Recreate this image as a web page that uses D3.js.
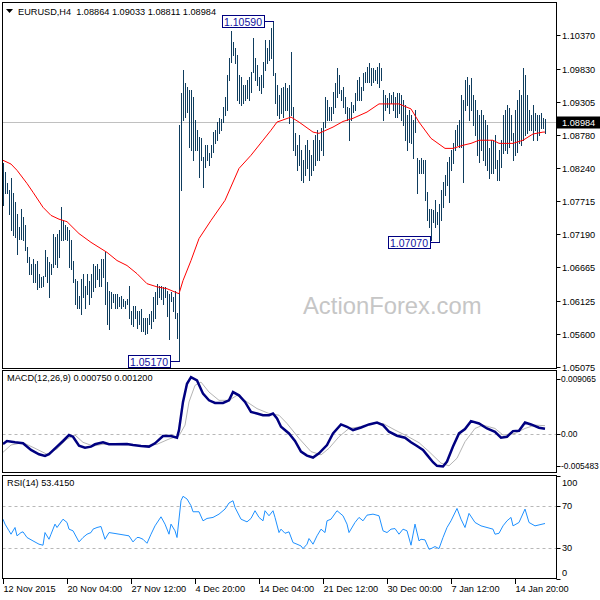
<!DOCTYPE html>
<html><head><meta charset="utf-8">
<script src="https://cdn.jsdelivr.net/npm/d3@7"></script>
<style>body{margin:0;background:#fff}svg{display:block}text{font-family:"Liberation Sans",Arial,sans-serif}</style>
</head><body>
<svg id="c" width="600" height="600"></svg>
<script>
// ---------- DATA ----------
const symbol = "EURUSD,H4";
const headerVals = ["1.08864","1.09033","1.08811","1.08984"];
const lastPrice = 1.08984;
const highs = [
1.0832,1.0818,1.0800,1.0789,1.0808,1.0784,1.0770,1.0752,1.0730,1.0759,
1.0746,1.0733,1.0698,1.0682,1.0672,1.0680,1.0672,1.0677,1.0656,1.0650,
1.0653,1.0693,1.0683,1.0675,1.0672,1.0719,1.0714,1.0720,1.0725,1.0763,
1.0741,1.0733,1.0730,1.0725,1.0709,1.0677,1.0648,1.0645,1.0621,1.0648,
1.0656,1.0637,1.0656,1.0645,1.0656,1.0672,1.0669,1.0672,1.0664,1.0680,
1.0680,1.0690,1.0642,1.0629,1.0626,1.0624,1.0624,1.0624,1.0618,1.0621,
1.0616,1.0613,1.0616,1.0637,1.0597,1.0605,1.0605,1.0597,1.0597,1.0600,
1.0586,1.0586,1.0586,1.0592,1.0597,1.0618,1.0626,1.0640,1.0637,1.0637,
1.0634,1.0634,1.0629,1.0624,1.0626,1.0618,1.0629,1.0594,1.0893,1.0944,
1.0981,1.0960,1.0954,1.0949,1.0949,1.0938,1.0901,1.0885,1.0874,1.0872,
1.0842,1.0861,1.0861,1.0848,1.0861,1.0882,1.0885,1.0898,1.0904,1.0903,
1.0922,1.0938,1.0973,1.1000,1.1043,1.1026,1.1016,1.1005,1.0973,1.0970,
1.0957,1.0957,1.0965,1.0970,1.0978,1.1032,1.1000,1.0989,1.0970,1.0973,
1.0994,1.1029,1.1016,1.1029,1.1048,1.1059,1.0976,1.0957,1.0941,1.0952,
1.0954,1.0960,1.0952,1.0957,1.1010,1.0922,1.0880,1.0861,1.0877,1.0853,
1.0837,1.0861,1.0869,1.0853,1.0845,1.0869,1.0877,1.0885,1.0869,1.0888,
1.0898,1.0938,1.0933,1.0922,1.0922,1.0946,1.0960,1.0984,1.0973,1.0949,
1.0954,1.0938,1.0922,1.0920,1.0930,1.0925,1.0944,1.0965,1.0970,1.0954,
1.0976,1.0978,1.0986,1.0992,1.0984,1.0984,1.0981,1.0986,1.0992,1.0984,
1.0949,1.0941,1.0936,1.0944,1.0941,1.0946,1.0938,1.0944,1.0944,1.0941,
1.0933,1.0925,1.0909,1.0917,1.0909,1.0901,1.0917,1.0840,1.0837,1.0840,
1.0837,1.0837,1.0786,1.0760,1.0760,1.0757,1.0773,1.0754,1.0768,1.0789,
1.0802,1.0813,1.0834,1.0842,1.0853,1.0864,1.0885,1.0893,1.0901,1.0941,
1.0933,1.0965,1.0970,1.0957,1.0968,1.0941,1.0933,1.0917,1.0909,1.0917,
1.0909,1.0901,1.0893,1.0856,1.0869,1.0869,1.0877,1.0837,1.0853,1.0869,
1.0909,1.0917,1.0925,1.0920,1.0909,1.0880,1.0917,1.0933,1.0949,1.0941,
1.0984,1.0973,1.0941,1.0917,1.0909,1.0925,1.0912,1.0909,1.0909,1.0912,
1.0904,1.09033];
const lows = [
1.0765,1.0784,1.0784,1.0752,1.0725,1.0717,1.0714,1.0688,1.0712,1.0712,
1.0709,1.0693,1.0674,1.0656,1.0656,1.0642,1.0642,1.0632,1.0634,1.0634,
1.0637,1.0653,1.0642,1.0618,1.0656,1.0666,1.0672,1.0666,1.0682,1.0709,
1.0709,1.0712,1.0709,1.0666,1.0664,1.0642,1.0608,1.0602,1.0602,1.0592,
1.0618,1.0602,1.0624,1.0608,1.0618,1.0629,1.0634,1.0648,1.0637,1.0637,
1.0650,1.0608,1.0576,1.0568,1.0602,1.0610,1.0602,1.0602,1.0605,1.0602,
1.0605,1.0602,1.0608,1.0586,1.0576,1.0573,1.0586,1.0570,1.0576,1.0565,
1.0565,1.0559,1.0562,1.0576,1.0570,1.0581,1.0586,1.0608,1.0618,1.0616,
1.0608,1.0618,1.0589,1.0552,1.0613,1.0597,1.0586,1.0554,1.0517,1.0789,
1.0901,1.0906,1.0914,1.0858,1.0853,1.0837,1.0853,1.0853,1.0810,1.0837,
1.0794,1.0826,1.0837,1.0829,1.0842,1.0850,1.0864,1.0869,1.0880,1.0885,
1.0898,1.0909,1.0917,1.0965,1.0994,1.1005,1.0992,1.0933,1.0928,1.0925,
1.0928,1.0933,1.0936,1.0933,1.0946,1.0978,1.0965,1.0957,1.0949,1.0944,
1.0954,1.0981,1.0992,1.0997,1.1000,1.0973,1.0928,1.0909,1.0904,1.0912,
1.0906,1.0917,1.0917,1.0896,1.0909,1.0853,1.0845,1.0821,1.0829,1.0805,
1.0802,1.0813,1.0824,1.0805,1.0813,1.0821,1.0829,1.0837,1.0837,1.0853,
1.0845,1.0890,1.0901,1.0901,1.0901,1.0912,1.0922,1.0938,1.0944,1.0933,
1.0922,1.0912,1.0901,1.0869,1.0901,1.0914,1.0917,1.0933,1.0933,1.0933,
1.0949,1.0962,1.0962,1.0962,1.0957,1.0962,1.0965,1.0960,1.0954,1.0965,
1.0901,1.0917,1.0922,1.0912,1.0928,1.0917,1.0906,1.0906,1.0912,1.0901,
1.0893,1.0869,1.0853,1.0866,1.0864,1.0840,1.0882,1.0784,1.0816,1.0816,
1.0816,1.0773,1.0741,1.0730,1.0709,1.0738,1.0730,1.0736,1.0707,1.0741,
1.0762,1.0781,1.0797,1.0770,1.0821,1.0832,1.0853,1.0861,1.0858,1.0858,
1.0802,1.0917,1.0925,1.0901,1.0917,1.0893,1.0877,1.0845,1.0834,1.0853,
1.0837,1.0829,1.0821,1.0808,1.0816,1.0816,1.0824,1.0805,1.0805,1.0826,
1.0848,1.0853,1.0848,1.0858,1.0869,1.0837,1.0845,1.0850,1.0864,1.0861,
1.0869,1.0877,1.0880,1.0885,1.0885,1.0869,1.0885,1.0869,1.0877,1.0888,
1.0888,1.08811];
const maIdx = [0,4,7,12,15,20,24,28,32,38,44,48,52,57,62,67,72,77,82,88,90,94,98,104,111,118,124,130,134,137,144,148,155,158,165,170,175,182,188,198,204,208,214,221,225,230,234,238,245,248,255,260,265,270,271];
const maVal = [1.0837,1.0831,1.0821,1.0800,1.0786,1.0762,1.0749,1.0743,1.0739,1.0720,1.0706,1.0698,1.0690,1.0677,1.0669,1.0656,1.0640,1.0635,1.0632,1.0624,1.0645,1.0677,1.0712,1.0741,1.0773,1.0824,1.0845,1.0869,1.0885,1.0898,1.0906,1.0898,1.0882,1.0880,1.0890,1.0899,1.0904,1.0914,1.0927,1.0927,1.0919,1.0898,1.0872,1.0856,1.0856,1.0861,1.0864,1.0869,1.0869,1.0864,1.0864,1.0869,1.0879,1.0882,1.0882];
const macdIdx = [0,2,6,10,14,18,21,23,27,30,33,35,38,41,44,46,50,53,56,62,65,69,73,76,80,84,87,88,90,92,94,97,100,103,106,110,113,115,118,121,124,127,130,133,135,137,139,143,146,149,152,155,158,162,165,169,172,175,179,183,187,190,193,197,201,204,207,210,212,215,217,220,222,225,228,231,234,238,242,246,249,252,255,258,261,264,268,271];
const macdVal = [-0.00142,-0.00099,-0.00118,-0.00132,-0.00227,-0.00288,-0.00312,-0.00288,-0.00179,-0.00099,-0.00014,-0.00038,-0.00165,-0.00194,-0.00179,-0.00146,-0.00118,-0.00146,-0.00146,-0.00142,-0.00156,-0.00170,-0.00179,-0.00132,-0.00028,-0.00028,-0.00052,0.00057,0.00458,0.00717,0.00812,0.00764,0.00576,0.00481,0.00444,0.00444,0.00481,0.00599,0.00552,0.00458,0.00316,0.00293,0.00269,0.00269,0.00293,0.00222,0.00104,0.00009,-0.00099,-0.00250,-0.00307,-0.00335,-0.00274,-0.00156,0.00009,0.00137,0.00104,0.00057,0.00094,0.00137,0.00165,0.00127,0.00033,-0.00024,-0.00052,-0.00118,-0.00170,-0.00227,-0.00297,-0.00401,-0.00453,-0.00463,-0.00392,-0.00179,0.00009,0.00071,0.00184,0.00151,0.00080,0.00033,-0.00052,-0.00038,0.00042,0.00047,0.00165,0.00137,0.00090,0.00075];
const sigIdx = [0,4,10,16,22,27,32,36,40,45,50,56,64,71,77,83,88,91,93,96,99,103,108,113,117,122,127,133,138,142,148,154,159,163,168,173,179,185,190,196,202,208,213,219,223,227,231,236,240,246,250,256,261,266,271];
const sigVal = [-0.00260,-0.00156,-0.00123,-0.00203,-0.00288,-0.00212,-0.00071,-0.00014,-0.00118,-0.00170,-0.00146,-0.00146,-0.00156,-0.00170,-0.00146,-0.00071,-0.00024,0.00127,0.00458,0.00694,0.00741,0.00599,0.00481,0.00481,0.00552,0.00458,0.00363,0.00293,0.00269,0.00151,-0.00061,-0.00250,-0.00297,-0.00203,-0.00038,0.00080,0.00104,0.00151,0.00151,0.00057,-0.00028,-0.00123,-0.00250,-0.00415,-0.00453,-0.00345,-0.00109,0.00080,0.00127,0.00080,-0.00014,0.00009,0.00080,0.00127,0.00120];
const rsiIdx = [0,1,3,4,6,7,9,10,12,15,18,20,21,23,24,26,27,30,32,33,35,38,40,42,44,45,47,49,51,53,56,60,63,65,67,68,70,72,74,76,79,81,83,84,86,87,89,90,92,94,95,98,100,102,105,108,111,113,115,116,119,122,124,126,128,130,131,133,135,136,138,139,141,143,145,147,149,150,152,153,155,157,159,161,162,164,167,170,172,173,176,178,180,182,185,188,190,192,194,196,198,200,202,204,206,208,209,211,213,214,216,218,220,222,224,227,229,231,233,236,239,242,245,246,248,250,252,254,255,258,261,263,266,271];
const rsiVal = [57.6,52.8,46.3,43,49.5,41.4,44.6,45.3,39.8,36.5,33.3,32.3,44.6,38.1,43,52.8,49.5,57.6,54.4,47.9,46.3,35.5,39.8,43,44.6,47.9,49.5,50.5,38.1,44.6,43.7,42.4,41.4,35.5,39.8,39.8,38.1,34.2,43,51.1,59.9,52.8,43,52.8,46.3,39.8,75.5,79.8,77.2,70.7,64.8,64.8,56,58.3,59.3,62.5,67.4,73.3,75.5,69,57.6,55,58.3,65.8,59.3,56,65.8,60.9,65.8,59.3,44.6,47.9,43.9,45.3,34.9,33.3,31.6,29,33.3,38.8,33.3,41.4,47.9,44.6,56,57.6,65.8,60.9,52.8,44.6,54.4,59.3,56,61.5,62.5,60.9,46.3,44.6,47.9,48.5,43,47.9,46.3,32.3,52.8,36.5,38.1,37.5,28.4,29,31,29,39.8,49.5,56,68,57.6,49.5,63.2,54.4,51.1,49.5,47.9,43,43.9,51.1,56,59.3,51.1,54.4,67.4,54.4,51.1,53.4];
const priceTicks = ["1.10370","1.09830","1.09305","1.08780","1.08240","1.07715","1.07190","1.06665","1.06125","1.05600","1.05075"];
const timeTickIdx = [0,32,64,96,128,160,192,224,256];
const timeTickLabels = ["12 Nov 2015","20 Nov 04:00","27 Nov 12:00","4 Dec 20:00","14 Dec 04:00","21 Dec 12:00","30 Dec 00:00","7 Jan 12:00","14 Jan 20:00"];
const annIdx = [135, 88, 218];
const annPrice = [1.1059, 1.0517, 1.0707];
const annText = ["1.10590","1.05170","1.07070"];
const macdTitle = "MACD(12,26,9) 0.000750 0.001200";
const macdTicks = ["0.009065","0.00","-0.005483"];
const rsiTitle = "RSI(14) 53.4150";
const rsiLevels = [70, 30];
const rsiTicks = [100, 70, 30, 0];
const watermark = "ActionForex.com";

// ---------- LAYOUT ----------
const L = 2.5, R = 556.5;
const main = {t:2.5, b:368.5}, mp = {t:370.5, b:472.5}, rp = {t:475.5, b:578.5};
const svg = d3.select("#c");
const FS = 9.2;

const x = d3.scaleLinear().domain([0, 271]).range([3, 545]);
const yP = d3.scaleLinear().domain([1.05075, 1.10370]).range([366.7, 35]);
const yM = d3.scaleLinear().domain([-0.005483, 0.009065]).range([mp.b, mp.t]);
const yR = d3.scaleLinear().domain([0, 100]).range([rp.b, rp.t]);
const px = i => Math.round(x(i)) + 0.5;

const defs = svg.append("defs");
[["cm",main],["cmacd",mp],["crsi",rp]].forEach(([id,p]) => {
  defs.append("clipPath").attr("id", id).append("rect")
    .attr("x", L).attr("y", p.t).attr("width", R - L).attr("height", p.b - p.t);
});

// watermark
svg.append("text").attr("x", 303).attr("y", 314).attr("font-size", 23.8)
  .attr("fill", "#c6c6c6").text(watermark);

// ---------- MAIN PANEL ----------
const gm = svg.append("g").attr("clip-path", "url(#cm)");
gm.append("line").attr("x1", L).attr("x2", R)
  .attr("y1", Math.round(yP(lastPrice)) + 0.5).attr("y2", Math.round(yP(lastPrice)) + 0.5)
  .attr("stroke", "#c0c0c0");
gm.append("g").attr("shape-rendering", "crispEdges").selectAll("line")
  .data(d3.range(highs.length)).join("line")
  .attr("x1", px).attr("x2", px)
  .attr("y1", i => Math.round(yP(highs[i]))).attr("y2", i => Math.round(yP(lows[i])) + 1)
  .attr("stroke", "#0f3d5e").attr("stroke-width", 1);
const maLine = d3.line().x((d, k) => x(maIdx[k])).y((d, k) => yP(maVal[k]));
gm.append("path").attr("d", maLine(maVal)).attr("fill", "none")
  .attr("stroke", "#ff0000").attr("stroke-width", 1);

// annotations
annIdx.forEach((idx, k) => {
  const bx = px(idx), by = Math.round(yP(annPrice[k])) + 0.5;
  const w = 42, h = 12, rx = bx - 10 - w;
  svg.append("line").attr("x1", rx + w).attr("x2", bx).attr("y1", by).attr("y2", by)
    .attr("stroke", "#000080").attr("shape-rendering", "crispEdges");
  svg.append("rect").attr("x", rx + 0.5).attr("y", by - h / 2).attr("width", w).attr("height", h)
    .attr("fill", "#fff").attr("stroke", "#000080").attr("shape-rendering", "crispEdges");
  svg.append("text").attr("x", rx + w / 2 + 0.5).attr("y", by + 0.5).attr("text-anchor", "middle")
    .attr("dominant-baseline", "central").attr("font-size", 10.5).attr("fill", "#1010a0")
    .text(annText[k]);
});

// header
svg.append("path").attr("d", "M6,9 L13,9 L9.5,13 Z").attr("fill", "#000");
svg.append("text").attr("x", 18).attr("y", 12).attr("dominant-baseline", "central")
  .attr("font-size", FS).attr("fill", "#000").attr("xml:space", "preserve")
  .text(symbol + "  " + headerVals.join(" "));

// price axis
priceTicks.forEach(t => {
  const yy = Math.round(yP(+t)) + 0.5;
  svg.append("line").attr("x1", R).attr("x2", R + 4).attr("y1", yy).attr("y2", yy).attr("stroke", "#000");
  svg.append("text").attr("x", 562).attr("y", yy).attr("dominant-baseline", "central")
    .attr("font-size", FS).attr("fill", "#000").text(t);
});
{
  const yy = Math.round(yP(lastPrice)) + 0.5;
  svg.append("rect").attr("x", R).attr("y", yy - 6).attr("width", 44).attr("height", 12).attr("fill", "#000");
  svg.append("text").attr("x", 562).attr("y", yy).attr("dominant-baseline", "central")
    .attr("font-size", FS).attr("fill", "#fff").text(headerVals[3]);
}

// ---------- MACD PANEL ----------
const gmac = svg.append("g").attr("clip-path", "url(#cmacd)");
gmac.append("line").attr("x1", L).attr("x2", R).attr("y1", Math.round(yM(0)) + 0.5).attr("y2", Math.round(yM(0)) + 0.5)
  .attr("stroke", "#b8b8b8").attr("stroke-dasharray", "3,3");
const sigLine = d3.line().x((d, k) => x(sigIdx[k])).y((d, k) => yM(sigVal[k]));
gmac.append("path").attr("d", sigLine(sigVal)).attr("fill", "none").attr("stroke", "#b4b4b4").attr("stroke-width", 1);
const macdLine = d3.line().x((d, k) => x(macdIdx[k])).y((d, k) => yM(macdVal[k]));
gmac.append("path").attr("d", macdLine(macdVal)).attr("fill", "none").attr("stroke", "#000080").attr("stroke-width", 2.5);
svg.append("text").attr("x", 7).attr("y", 378).attr("dominant-baseline", "central")
  .attr("font-size", FS).attr("fill", "#000").text(macdTitle);
[[macdTicks[0], mp.t + 8], [macdTicks[1], yM(0)], [macdTicks[2], mp.b - 6.5]].forEach(([t, yy]) => {
  svg.append("line").attr("x1", R).attr("x2", R + 4).attr("y1", Math.round(yy) + 0.5).attr("y2", Math.round(yy) + 0.5).attr("stroke", "#000");
  svg.append("text").attr("x", 561).attr("y", yy).attr("dominant-baseline", "central")
    .attr("font-size", 8.4).attr("fill", "#000").text(t);
});

// ---------- RSI PANEL ----------
const gr = svg.append("g").attr("clip-path", "url(#crsi)");
rsiLevels.forEach(v => {
  gr.append("line").attr("x1", L).attr("x2", R).attr("y1", Math.round(yR(v)) + 0.5).attr("y2", Math.round(yR(v)) + 0.5)
    .attr("stroke", "#b8b8b8").attr("stroke-dasharray", "3,3");
});
const rsiLine = d3.line().x((d, k) => x(rsiIdx[k])).y((d, k) => yR(rsiVal[k]));
gr.append("path").attr("d", rsiLine(rsiVal)).attr("fill", "none").attr("stroke", "#1e90ff").attr("stroke-width", 1);
svg.append("text").attr("x", 7).attr("y", 483).attr("dominant-baseline", "central")
  .attr("font-size", FS).attr("fill", "#000").text(rsiTitle);
rsiTicks.forEach(v => {
  let yy = yR(v);
  if (v === 100) yy = rp.t + 7;
  if (v === 0) yy = rp.b - 6;
  svg.append("line").attr("x1", R).attr("x2", R + 4).attr("y1", Math.round(yR(v)) + 0.5).attr("y2", Math.round(yR(v)) + 0.5).attr("stroke", "#000");
  svg.append("text").attr("x", 562).attr("y", yy).attr("dominant-baseline", "central")
    .attr("font-size", FS).attr("fill", "#000").text(v);
});

// ---------- BORDERS ----------
[main, mp, rp].forEach(p => {
  svg.append("rect").attr("x", L).attr("y", p.t).attr("width", R - L).attr("height", p.b - p.t)
    .attr("fill", "none").attr("stroke", "#000").attr("shape-rendering", "crispEdges");
});

// ---------- TIME AXIS ----------
timeTickIdx.forEach((idx, k) => {
  svg.append("line").attr("x1", px(idx)).attr("x2", px(idx)).attr("y1", rp.b).attr("y2", rp.b + 5)
    .attr("stroke", "#000").attr("shape-rendering", "crispEdges");
  svg.append("text").attr("x", px(idx)).attr("y", 592).attr("font-size", FS).attr("fill", "#000")
    .text(timeTickLabels[k]);
});
</script>
</body></html>
